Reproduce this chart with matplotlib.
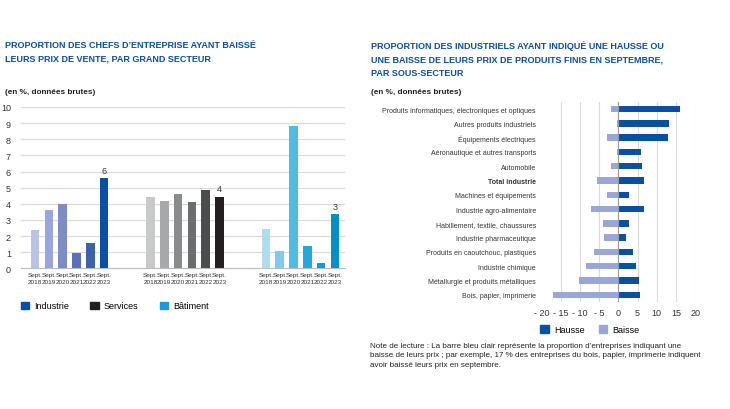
import matplotlib.pyplot as plt
from matplotlib.patches import Patch

plt.rcParams['font.family'] = ['Liberation Sans', 'DejaVu Sans']

# données graphique de gauche
annees = ['Sept.\n2018', 'Sept.\n2019', 'Sept.\n2020', 'Sept.\n2021', 'Sept.\n2022', 'Sept.\n2023']
industrie = [2.35, 3.6, 4.0, 0.95, 1.55, 5.6]
services = [4.4, 4.2, 4.6, 4.1, 4.85, 4.45]
batiment = [2.45, 1.05, 8.8, 1.4, 0.35, 3.35]
etiquettes_2023 = ['6', '4', '3']

# données graphique de droite
sous_secteurs = ['Produits informatiques, électroniques et optiques', 'Autres produits industriels',
                 'Équipements électriques', 'Aéronautique et autres transports', 'Automobile',
                 'Total industrie', 'Machines et équipements', 'Industrie agro-alimentaire',
                 'Habillement, textile, chaussures', 'Industrie pharmaceutique',
                 'Produits en caoutchouc, plastiques', 'Industrie chimique',
                 'Métallurgie et produits métalliques', 'Bois, papier, imprimerie']
hausse = [16.0, 13.2, 13.0, 5.9, 6.1, 6.7, 2.7, 6.8, 2.8, 1.9, 3.9, 4.5, 5.4, 5.6]
baisse = [1.9, 0.4, 2.9, 0.3, 1.9, 5.6, 2.9, 7.0, 3.9, 3.7, 6.3, 8.3, 10.3, 17.1]

bleu_titre = '#0b4ea2'
gris_grille = '#d9d9d9'
col_industrie = ['#b9c3e3', '#9aa6d9', '#7e8bcb', '#5c6fb9', '#3a62ae', '#0a50a2']
col_services = ['#c8c9cb', '#a7a8aa', '#8a8b8d', '#6b6c6e', '#4b4c4e', '#231f20']
col_batiment = ['#b0dcf0', '#7ecbea', '#50bbe3', '#22a9db', '#0b9cd2', '#0090c6']
col_hausse = '#0a50a2'
col_baisse = '#9aa5d8'

fig = plt.figure(figsize=(7.3, 4.1), dpi=100)
fig.patch.set_facecolor('white')

# titres
fig.text(0.007, 0.9, "PROPORTION DES CHEFS D\u2019ENTREPRISE AYANT BAISSÉ\nLEURS PRIX DE VENTE, PAR GRAND SECTEUR",
         fontsize=6.5, fontweight='bold', color=bleu_titre, va='top', linespacing=1.7)
fig.text(0.007, 0.775, "(en %, données brutes)", fontsize=5.9, fontweight='bold',
         color='#222222', va='center')
fig.text(0.508, 0.9, "PROPORTION DES INDUSTRIELS AYANT INDIQUÉ UNE HAUSSE OU\n"
         "UNE BAISSE DE LEURS PRIX DE PRODUITS FINIS EN SEPTEMBRE,\nPAR SOUS-SECTEUR",
         fontsize=6.5, fontweight='bold', color=bleu_titre, va='top', linespacing=1.62)
fig.text(0.508, 0.775, "(en %, données brutes)", fontsize=5.9, fontweight='bold',
         color='#222222', va='center')

# graphique de gauche
ax1 = fig.add_axes([0.0284, 0.3432, 0.444, 0.3934])
ecart = 8.37
positions = []
etiq = []
for g, (vals, cols) in enumerate([(industrie, col_industrie), (services, col_services), (batiment, col_batiment)]):
    xs = [g * ecart + i for i in range(len(vals))]
    ax1.bar(xs, vals, width=0.63, color=cols, zorder=3)
    ax1.text(xs[-1], vals[-1] + 0.2, etiquettes_2023[g], ha='center', va='bottom', fontsize=6.5, color='#333333')
    positions += xs
    etiq += annees
ax1.set_xlim(-1.04, 22.46)
ax1.set_ylim(0, 10)
ax1.set_yticks(range(0, 11))
ax1.set_xticks(positions)
ax1.set_xticklabels(etiq, fontsize=4.6, linespacing=1.35)
ax1.tick_params(axis='both', length=0, colors='#333333')
ax1.tick_params(axis='y', labelsize=6.5, pad=7)
ax1.tick_params(axis='x', pad=3)
ax1.grid(axis='y', color=gris_grille, linewidth=0.8, zorder=0)
for s in ['top', 'right', 'left']:
    ax1.spines[s].set_visible(False)
ax1.spines['bottom'].set_color('#bbbbbb')
ax1.set_facecolor('white')

poignees = [Patch(color='#0a50a2', label='Industrie'), Patch(color='#231f20', label='Services'),
            Patch(color='#1a9ad6', label='Bâtiment')]
ax1.legend(handles=poignees, loc='upper left', bbox_to_anchor=(-0.025, -0.155), ncol=3, frameon=False,
           fontsize=6.5, handlelength=0.9, handleheight=0.9, columnspacing=2.35, handletextpad=0.6)

# graphique de droite
ax2 = fig.add_axes([0.7418, 0.261, 0.2104, 0.4878])
ys = list(range(len(sous_secteurs)))
ax2.barh(ys, hausse, height=0.45, color=col_hausse, zorder=3)
ax2.barh(ys, [-v for v in baisse], height=0.45, color=col_baisse, zorder=3)
ax2.set_xlim(-20, 20)
ax2.set_ylim(len(sous_secteurs) - 0.5, -0.5)
ax2.set_xticks(range(-20, 21, 5))
ax2.set_xticklabels(['- 20', '- 15', '- 10', '- 5', '0', '5', '10', '15', '20'])
ax2.set_yticks(ys)
ax2.set_yticklabels(sous_secteurs)
for lab in ax2.get_yticklabels():
    if lab.get_text() == 'Total industrie':
        lab.set_fontweight('bold')
ax2.tick_params(axis='both', length=0, colors='#333333')
ax2.tick_params(axis='y', labelsize=5.0, pad=4)
ax2.tick_params(axis='x', labelsize=6.5, pad=4)
ax2.grid(axis='x', color=gris_grille, linewidth=0.8, zorder=0)
ax2.get_xgridlines()[0].set_visible(False)
ax2.axvline(0, color='#999999', linewidth=0.8, zorder=4)
for s in ax2.spines.values():
    s.set_visible(False)

poignees2 = [Patch(color=col_hausse, label='Hausse'), Patch(color=col_baisse, label='Baisse')]
ax2.legend(handles=poignees2, loc='upper left', bbox_to_anchor=(-0.06, -0.075), ncol=2, frameon=False,
           fontsize=6.5, handlelength=0.9, handleheight=0.9, columnspacing=1.6, handletextpad=0.6)

fig.text(0.507, 0.163, "Note de lecture : La barre bleu clair représente la proportion d\u2019entreprises indiquant une\n"
         "baisse de leurs prix ; par exemple, 17 % des entreprises du bois, papier, imprimerie indiquent\n"
         "avoir baissé leurs prix en septembre.",
         fontsize=5.8, color='#222222', va='top', linespacing=1.45)

fig.savefig('out.png', dpi=100)
